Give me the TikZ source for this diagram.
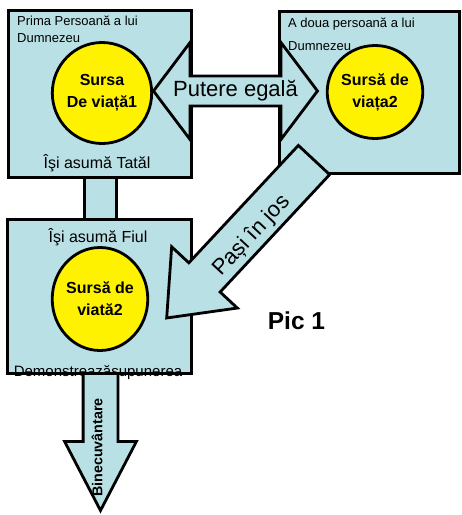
\documentclass[tikz,border=0pt]{standalone}
\usepackage{fontspec}
\setmainfont{Liberation Sans}
\usetikzlibrary{shapes.geometric,shapes.arrows}
\definecolor{paleblue}{RGB}{185,224,228}

\begin{document}
\begin{tikzpicture}[x=1pt, y=-1pt
            , panel/.style={draw, line width=2.8pt, fill=paleblue},
            persona/.style={panel, rectangle, inner sep=0pt, outer sep=0pt},
            lifesource/.style={draw, line width=2.8pt, fill=yellow, ellipse, inner sep=0pt, outer sep=0pt,
                align=center, font=\fontsize{16}{22}\selectfont\bfseries},
            titletext/.style={inner sep=0pt, align=left, font=\fontsize{13}{16.5}\selectfont},
            boxtext/.style={inner sep=0pt, font=\fontsize{16}{19}\selectfont},
            blockarrow/.style={panel, inner xsep=0pt, outer sep=0pt},
            arrowtext/.style={inner sep=0pt, font=\fontsize{22}{26}\selectfont}]
        \useasboundingbox (0,0) rectangle (462,515);
        % the three persons
        \node[persona, minimum width=183pt, minimum height=167pt] (tatal) at (100,94) {};
        \node[persona, minimum width=180pt, minimum height=162pt] (adoua) at (369.5,92.5) {};
        \node[persona, minimum width=184pt, minimum height=154pt] (fiul) at (99.5,296.5) {};
        \draw[panel] ([xshift=-15.5pt]tatal.south) rectangle ([xshift=17pt]fiul.north);
        % texts in the boxes
        \node[titletext, anchor=north west] (primatitle) at ([xshift=8.5pt, yshift=-5.5pt]tatal.north west) {Prima Persoană a lui\\Dumnezeu};
        \node[titletext, anchor=north west, font=\fontsize{13}{23}\selectfont] (adouatitle) at ([xshift=8.5pt, yshift=-6.5pt]adoua.north west) {A doua persoană a lui\\Dumnezeu};
        \node[boxtext, anchor=base] (tatalcap) at ([xshift=-3pt, yshift=9.5pt]tatal.south) {Îşi asumă Tatăl};
        \node[boxtext, anchor=base] (fiulcap) at ([xshift=-1.5pt, yshift=-23pt]fiul.north) {Îşi asumă Fiul};
        \node[boxtext, anchor=base, font=\fontsize{15}{18}\selectfont] (demcap) at ([xshift=-1.5pt, yshift=-3pt]fiul.south) {Demonstreazăsupunerea};
        % sources of life
        \node[lifesource, minimum width=97pt, minimum height=101pt] (sursa1) at (102,93) {Sursa\\De viață1};
        \node[lifesource, minimum width=95pt, minimum height=93pt] (sursa2) at (375,92) {Sursă de\\viața2};
        \node[lifesource, minimum width=95pt, minimum height=103pt] (sursa3) at (100,299) {Sursă de\\viată2};
        % block arrows
        \node[blockarrow, double arrow, inner ysep=0pt, minimum height=164pt, minimum width=97pt, double arrow head extend=26.5pt,
            double arrow tip angle=106, font=\fontsize{22}{26}\selectfont] (putere) at (235.5,91) {Putere egală};
        \node[blockarrow, single arrow, inner ysep=20pt, rotate=47, shape border rotate=180, minimum height=216pt, minimum width=87pt,
            single arrow head extend=23.5pt, single arrow tip angle=78, anchor=tail] (pasi) at (314,160) {};
        \node[arrowtext, rotate=47] (pasitext) at (252,236) {Pași în jos};
        \node[blockarrow, single arrow, inner ysep=16pt, rotate=90, shape border rotate=180, minimum height=137pt, minimum width=69pt,
            single arrow head extend=18.5pt, single arrow tip angle=55, anchor=tail] (bine) at ([xshift=1pt]fiul.south) {};
        \node[arrowtext, rotate=90, font=\fontsize{14.3}{17}\selectfont\bfseries] (binetext) at (97,447.5) {Binecuvântare};
        \node[inner sep=0pt, anchor=base, font=\fontsize{24.5}{28}\selectfont\bfseries] (pic) at (296.5,329.3) {Pic 1};
        \end{tikzpicture}
\end{document}
